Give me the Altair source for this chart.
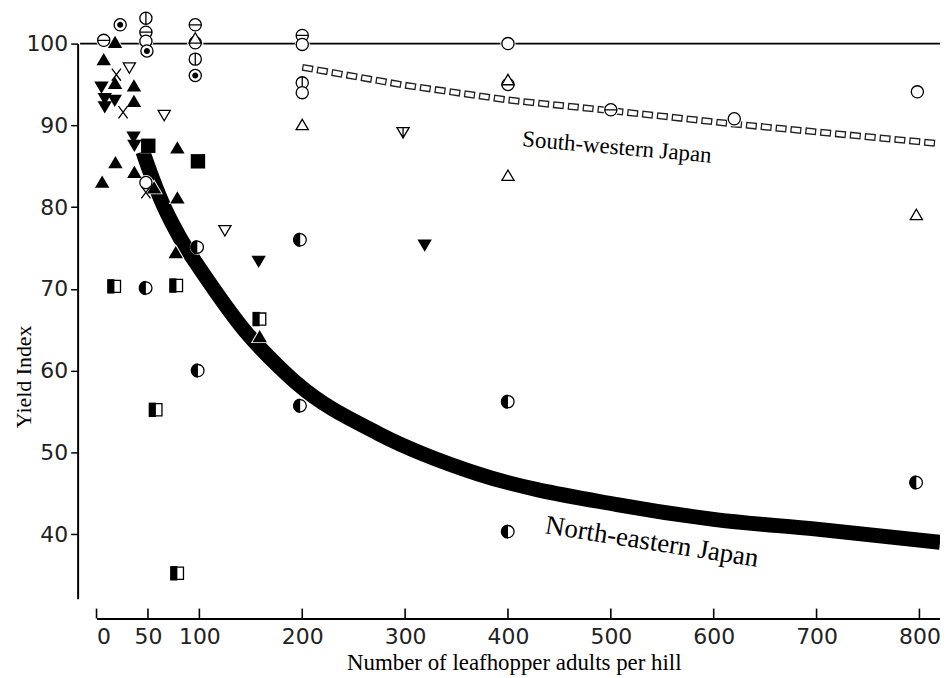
import altair as alt
import pandas as pd

# ---------------- data ----------------
theta_x = [7, 48, 96, 200, 500]
theta_y = [100.4, 101.4, 102.3, 101.0, 91.9]
phi_x = [48, 96, 200]
phi_y = [103.1, 98.1, 95.2]
open_x = [48, 96, 200, 200, 400, 400, 620, 798, 48]
open_y = [100.3, 100.1, 99.9, 94.0, 100.0, 95.0, 90.8, 94.1, 83.0]
dot_x = [23, 49, 96]
dot_y = [102.3, 99.1, 96.1]
halfc_x = [98, 48, 98.6, 198, 198, 400, 400, 797]
halfc_y = [75.1, 70.1, 60.0, 76.0, 55.7, 56.2, 40.3, 46.3]
tri_x = [18, 7, 18, 36.4, 36.4, 78.6, 18.4, 36.8, 5.5, 56, 78.6, 77, 158.6]
tri_y = [100.2, 98.1, 95.2, 94.9, 93.0, 87.3, 85.5, 84.3, 83.1, 82.4, 81.2, 74.5, 64.2]
otri_x = [96, 200, 400, 400, 797]
otri_y = [100.7, 90.1, 95.6, 83.9, 79.1]
itri_x = [4.8, 8, 17.7, 8, 36, 36.8, 157.6, 319]
itri_y = [94.6, 93.2, 93.0, 92.2, 88.5, 87.5, 73.3, 75.3]
oitri_x = [31.9, 65.8, 124.8]
oitri_y = [97.0, 91.2, 77.1]
itribar_x = [298]
itribar_y = [89.1]
cross_x = [19.3, 25.8, 48]
cross_y = [96.2, 91.6, 81.8]
sq_x = [50.3, 98.6]
sq_y = [87.5, 85.6]
halfsq_x = [17.4, 77.7, 158.6, 57.7, 78.6]
halfsq_y = [70.3, 70.4, 66.3, 55.2, 35.2]

# fitted curves
ne_x = [45, 50, 64, 74, 88, 96, 146, 177, 196, 274, 370, 506, 600, 700, 820]
ne_y = [86.8, 85.0, 80.5, 77.9, 74.8, 73.3, 64.6, 60.5, 58.3, 52.3, 47.4, 43.6, 41.8, 40.6, 39.0]
sw_x = [200, 300, 400, 500, 617, 816]
sw_y = [97.1, 94.9, 93.1, 91.8, 90.2, 87.8]

x_ticks = [0, 50, 100, 200, 300, 400, 500, 600, 700, 800]
y_ticks = [40, 50, 60, 70, 80, 90, 100]

labels = ["South-western Japan", "North-eastern Japan"]
label_x = [506, 540]
label_y = [87.3, 39.0]
label_angle = [5, 9]
label_size = [23, 27]

# ---------------- tables ----------------
groups = [
    ("theta", theta_x, theta_y), ("phi", phi_x, phi_y), ("o", open_x, open_y),
    ("dot", dot_x, dot_y), ("halfc", halfc_x, halfc_y), ("tri", tri_x, tri_y),
    ("otri", otri_x, otri_y), ("itri", itri_x, itri_y), ("oitri", oitri_x, oitri_y),
    ("itribar", itribar_x, itribar_y), ("x", cross_x, cross_y), ("sq", sq_x, sq_y),
    ("halfsq", halfsq_x, halfsq_y),
]
rows = []
for k, xs_, ys_ in groups:
    for a, b in zip(xs_, ys_):
        rows.append({"x": a, "y": b, "kind": k})
pts = pd.DataFrame(rows)

ne = pd.DataFrame({"x": ne_x, "y": ne_y})
sw = pd.DataFrame({"x": sw_x, "y": sw_y})
ann = pd.DataFrame({"x": label_x, "y": label_y, "t": labels})

# ---------------- symbol paths ----------------
C = "M-1,0A1,1,0,1,1,1,0A1,1,0,1,1,-1,0Z"
TU = "M0,-0.85L1,0.85L-1,0.85Z"
TD = "M-1,-0.85L1,-0.85L0,0.85Z"
SQ = "M-1,-1L1,-1L1,1L-1,1Z"
X = "M-0.75,-1L0.75,1M-0.75,1L0.75,-1"
HALF_C = "M0,-1A1,1,0,0,0,0,1Z"
HALF_SQ = "M-1,-1L0,-1L0,1L-1,1Z"
DOT = "M-0.42,0A0.42,0.42,0,1,1,0.42,0A0.42,0.42,0,1,1,-0.42,0Z"

size_of = {"o": 150, "theta": 150, "phi": 150, "dot": 150, "halfc": 150, "tri": 210,
           "otri": 200, "itri": 210, "oitri": 200, "itribar": 200, "x": 170,
           "sq": 150, "halfsq": 140}

halo_map = {"o": C, "theta": C, "phi": C, "dot": C, "halfc": C, "tri": TU, "otri": TU,
            "itri": TD, "oitri": TD, "itribar": TD, "x": X, "sq": SQ, "halfsq": SQ}
outline_map = {"o": C, "theta": C + "M-1,0L1,0", "phi": C + "M0,-1L0,1", "dot": C,
               "halfc": C, "otri": TU, "oitri": TD, "itribar": TD + "M0,-0.85L0,0.85",
               "x": X, "halfsq": SQ}
fill_map = {"tri": TU, "itri": TD, "sq": SQ, "halfc": HALF_C, "halfsq": HALF_SQ, "dot": DOT}

# ---------------- scales / axes ----------------
xs = alt.Scale(domain=[0, 820], nice=False, zero=False)
ys = alt.Scale(domain=[32.1, 100], nice=False, zero=False)
xax = alt.Axis(values=x_ticks, title=None, offset=20, ticks=False, grid=False,
               domainWidth=2, labelFontSize=22, labelPadding=8, labelFont="DejaVu Sans",
               labelColor="#222", domainColor="black")
yax = alt.Axis(values=y_ticks, title=None, offset=19, tickSize=7, tickWidth=1.5, grid=False,
               domainWidth=2, labelFontSize=22, labelPadding=3, labelFont="DejaVu Sans",
               labelColor="#222", domainColor="black", tickColor="black")
XE = alt.X("x:Q", scale=xs, axis=xax)
YE = alt.Y("y:Q", scale=ys, axis=yax)


def sym_layer(mapping, mark):
    ks = list(mapping.keys())
    return alt.Chart(pts).transform_filter(
        alt.FieldOneOfPredicate(field="kind", oneOf=ks)
    ).mark_point(**mark).encode(
        x=XE, y=YE,
        shape=alt.Shape("kind:N", scale=alt.Scale(domain=ks, range=[mapping[k] for k in ks]), legend=None),
        size=alt.Size("kind:N", scale=alt.Scale(domain=ks, range=[size_of[k] for k in ks]), legend=None),
    )


rule100 = alt.Chart(pd.DataFrame({"x": [-16], "x2": [820], "y": [100]})).mark_rule(
    color="black", strokeWidth=1.6).encode(x=XE, x2="x2:Q", y=YE)

ne_line = alt.Chart(ne).mark_line(color="black", strokeWidth=15, strokeCap="butt",
                                  interpolate="monotone").encode(x=XE, y=YE)
sw_outer = alt.Chart(sw).mark_line(color="#222", strokeWidth=7, strokeDash=[11, 4],
                                   strokeCap="butt").encode(x=XE, y=YE)
sw_inner = alt.Chart(sw).mark_line(color="white", strokeWidth=4.2, strokeDash=[8.4, 6.6],
                                   strokeDashOffset=13.7, strokeCap="butt").encode(x=XE, y=YE)

halo = sym_layer(halo_map, dict(filled=True, fill="white", stroke="white", strokeWidth=3, opacity=1))
outline = sym_layer(outline_map, dict(filled=True, fill="white", stroke="black", strokeWidth=1.3, opacity=1))
fills = sym_layer(fill_map, dict(filled=True, fill="black", strokeWidth=0, opacity=1))

xticks = alt.Chart(pd.DataFrame({"x": x_ticks})).mark_rule(color="black", strokeWidth=1.6).encode(
    x=XE, y=alt.value(568), y2=alt.value(578))

ann_layers = [
    alt.Chart(ann[ann.t == t]).mark_text(font="Liberation Serif", fontSize=s, angle=a,
                                         color="black", align="center", baseline="middle")
    .encode(x=XE, y=YE, text="t:N")
    for t, a, s in zip(labels, label_angle, label_size)
]

ytitle = alt.Chart(pd.DataFrame({"t": ["Yield Index"]})).mark_text(
    font="Liberation Serif", fontSize=22, angle=270, color="black", align="center", baseline="middle"
).encode(text="t:N", x=alt.value(-73), y=alt.value(335))
xtitle = alt.Chart(pd.DataFrame({"t": ["Number of leafhopper adults per hill"]})).mark_text(
    font="Liberation Serif", fontSize=23, color="black", align="center", baseline="middle"
).encode(text="t:N", x=alt.value(420), y=alt.value(623))

chart = alt.layer(
    rule100, ne_line, sw_outer, sw_inner, xticks, halo, outline, fills, *ann_layers, ytitle, xtitle
).resolve_scale(shape="independent", size="independent").properties(
    width=848, height=558,
    autosize=alt.AutoSizeParams(type="none"),
    padding={"left": 89, "top": 34, "right": 0, "bottom": 78},
    background="white",
).configure_view(stroke=None)

chart.save("out.html", embed_options={"renderer": "svg", "actions": False})
